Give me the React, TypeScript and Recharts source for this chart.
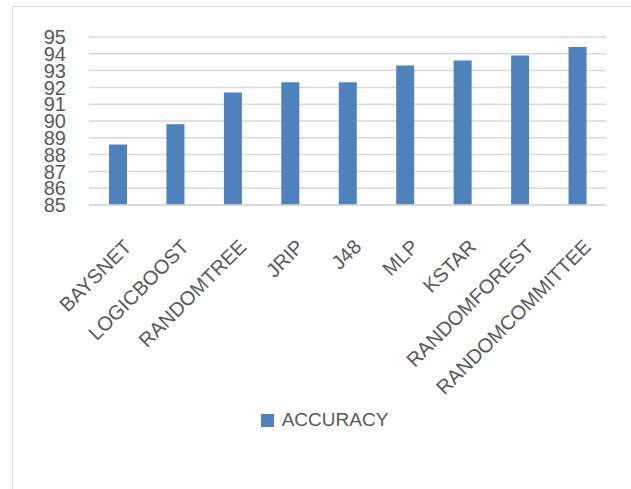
import { BarChart, Bar, XAxis, YAxis, CartesianGrid, Legend } from 'recharts';

const classifiers = [
  'BAYSNET',
  'LOGICBOOST',
  'RANDOMTREE',
  'JRIP',
  'J48',
  'MLP',
  'KSTAR',
  'RANDOMFOREST',
  'RANDOMCOMMITTEE',
];
const accuracy = [88.6, 89.8, 91.7, 92.3, 92.3, 93.3, 93.6, 93.9, 94.4];
const yTicks = [85, 86, 87, 88, 89, 90, 91, 92, 93, 94, 95];

const BLUE = '#4F81BD';
const TEXT = '#595959';
const GRID = '#D9D9D9';
const FONT = '"Liberation Sans", Arial, sans-serif';

const data = classifiers.map((name, i) => ({ name, ACCURACY: accuracy[i] }));

function SlantTick({ x, y, payload }: any) {
  return (
    <g transform={`translate(${x + 15},${y + 41})`}>
      <text
        transform="rotate(-45)"
        textAnchor="end"
        fill={TEXT}
        fontSize={20}
        fontFamily={FONT}
      >
        {payload.value}
      </text>
    </g>
  );
}

function LegendBox({ payload }: any) {
  return (
    <div style={{ display: 'flex', justifyContent: 'center', alignItems: 'center' }}>
      {(payload || []).map((p: any) => (
        <div key={p.value} style={{ display: 'flex', alignItems: 'center', gap: 8 }}>
          <div style={{ width: 13, height: 13, background: BLUE }} />
          <span style={{ color: TEXT, fontSize: 19, fontFamily: FONT, lineHeight: '20px' }}>
            {p.value}
          </span>
        </div>
      ))}
    </div>
  );
}

export default function App() {
  return (
    <div
      style={{
        position: 'absolute',
        left: 0,
        top: 0,
        width: 631,
        height: 489,
        overflow: 'hidden',
        background: '#fff',
      }}
    >
      <div
        style={{
          position: 'absolute',
          left: 12,
          top: 6,
          width: 640,
          height: 500,
          border: `1px solid ${GRID}`,
        }}
      />
      <div style={{ position: 'absolute', left: 0, top: 0 }}>
        <BarChart
          width={631}
          height={489}
          data={data}
          margin={{ top: 37, right: 25, left: 0, bottom: 84 }}
        >
          <CartesianGrid vertical={false} stroke={GRID} strokeWidth={1.5} />
          <XAxis
            dataKey="name"
            height={200}
            interval={0}
            axisLine={{ stroke: GRID, strokeWidth: 1.5 }}
            tickLine={false}
            tickSize={0}
            tick={<SlantTick />}
          />
          <YAxis
            width={89}
            domain={[85, 95]}
            ticks={yTicks}
            interval={0}
            axisLine={false}
            tickLine={false}
            tickSize={0}
            tickMargin={23}
            tick={{ fill: TEXT, fontSize: 20, fontFamily: FONT }}
          />
          <Legend
            verticalAlign="middle"
            align="center"
            content={<LegendBox />}
            wrapperStyle={{ top: 410, left: 9, width: 631 }}
          />
          <Bar dataKey="ACCURACY" fill={BLUE} barSize={18} isAnimationActive={false} />
        </BarChart>
      </div>
    </div>
  );
}
